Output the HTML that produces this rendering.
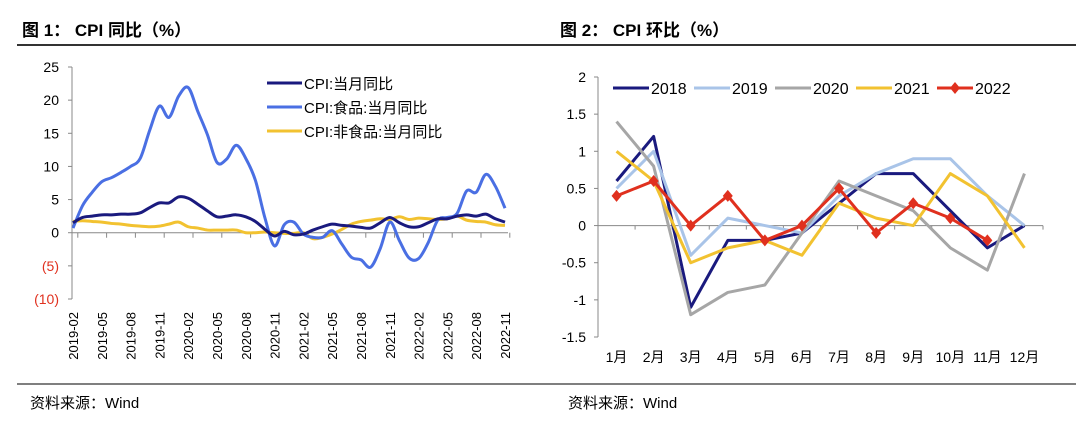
<!DOCTYPE html>
<html><head><meta charset="utf-8"><style>
body{margin:0;width:1080px;height:417px;background:#fff;overflow:hidden;font-family:"Liberation Sans","Noto Sans CJK SC",sans-serif}
svg text{font-family:"Liberation Sans","Noto Sans CJK SC",sans-serif}
</style></head><body>
<svg id="s" width="1080" height="417">
<text x="22" y="36" font-size="17" font-weight="bold">图 1：  CPI 同比（%）</text>
<text x="560" y="36" font-size="17" font-weight="bold">图 2：  CPI 环比（%）</text>
<line x1="17" y1="45" x2="1076" y2="45" stroke="#333" stroke-width="2"/>
<line x1="17" y1="384" x2="1076" y2="384" stroke="#333" stroke-width="1.2"/>
<text x="30" y="408" font-size="15">资料来源：Wind</text>
<text x="568" y="408" font-size="15">资料来源：Wind</text>
<g id="c1"></g><g id="c2"></g>
</svg>
<script>
const NS="http://www.w3.org/2000/svg";
function mk(p,t,a){const e=document.createElementNS(NS,t);for(const k in a)e.setAttribute(k,a[k]);p.appendChild(e);return e;}
// ---- Chart 1 data ----
const c1Ticks=[25,20,15,10,5,0,-5,-10];
const c1TickLabels=["25","20","15","10","5","0","(5)","(10)"];
const c1XLabels=["2019-02","2019-05","2019-08","2019-11","2020-02","2020-05","2020-08","2020-11","2021-02","2021-05","2021-08","2021-11","2022-02","2022-05","2022-08","2022-11"];
const cpiYoY=[1.5,2.3,2.5,2.7,2.7,2.8,2.8,3.0,3.8,4.5,4.5,5.4,5.2,4.3,3.3,2.4,2.5,2.7,2.4,1.7,0.5,-0.5,0.2,-0.3,-0.2,0.4,0.9,1.3,1.1,1.0,0.8,0.7,1.5,2.3,1.5,0.9,0.9,1.5,2.1,2.1,2.5,2.7,2.5,2.8,2.1,1.6];
const foodYoY=[0.7,4.1,6.1,7.7,8.3,9.1,10.0,11.2,15.5,19.1,17.4,20.6,21.9,18.3,14.8,10.6,11.1,13.2,11.2,7.9,2.2,-2.0,1.2,1.6,-0.2,-0.7,-0.7,0.3,-1.7,-3.7,-4.1,-5.2,-2.4,1.6,-1.2,-3.8,-3.9,-1.5,1.9,2.3,2.9,6.3,6.1,8.8,7.0,3.7];
const nonFoodYoY=[1.7,1.8,1.7,1.6,1.4,1.3,1.1,1.0,0.9,1.0,1.3,1.6,0.9,0.7,0.4,0.4,0.4,0.4,0.0,0.0,0.1,0.0,-0.1,-0.1,0.0,-0.9,-0.7,-0.2,0.5,1.3,1.7,1.9,2.1,2.0,2.4,2.0,2.2,2.1,2.0,2.1,2.5,1.9,1.7,1.6,1.2,1.1];
const c1Names=["CPI:当月同比","CPI:食品:当月同比","CPI:非食品:当月同比"];
// ---- Chart 2 data ----
const c2Ticks=[2,1.5,1,0.5,0,-0.5,-1,-1.5];
const c2Months=["1月","2月","3月","4月","5月","6月","7月","8月","9月","10月","11月","12月"];
const y2018=[0.6,1.2,-1.1,-0.2,-0.2,-0.1,0.3,0.7,0.7,0.2,-0.3,0];
const y2019=[0.5,1.0,-0.4,0.1,0,-0.1,0.4,0.7,0.9,0.9,0.4,0];
const y2020=[1.4,0.8,-1.2,-0.9,-0.8,-0.1,0.6,0.4,0.2,-0.3,-0.6,0.7];
const y2021=[1.0,0.6,-0.5,-0.3,-0.2,-0.4,0.3,0.1,0,0.7,0.4,-0.3];
const y2022=[0.4,0.6,0,0.4,-0.2,0,0.5,-0.1,0.3,0.1,-0.2];
const c2Names=["2018","2019","2020","2021","2022"];

function smooth(pts){let d='M'+pts[0][0]+','+pts[0][1];
 for(let i=0;i<pts.length-1;i++){const p0=pts[Math.max(i-1,0)],p1=pts[i],p2=pts[i+1],p3=pts[Math.min(i+2,pts.length-1)];
  const c1x=p1[0]+(p2[0]-p0[0])/6,c1y=p1[1]+(p2[1]-p0[1])/6,c2x=p2[0]-(p3[0]-p1[0])/6,c2y=p2[1]-(p3[1]-p1[1])/6;
  d+=` C${c1x},${c1y} ${c2x},${c2y} ${p2[0]},${p2[1]}`;}
 return d;}

// ---- Chart 1 draw ----
(function(){
const g=document.getElementById('c1');
const x0=73,x1=505,yTop=67,yBot=299,vMax=25,vMin=-10;
const y=v=>yTop+(vMax-v)/(vMax-vMin)*(yBot-yTop);
const n=cpiYoY.length;const x=i=>x0+i*(x1-x0)/(n-1);
let e=mk(g,'line',{x1:72,y1:yTop,x2:72,y2:yBot,stroke:'#888'});

e=mk(g,'line',{x1:72,y1:y(0),x2:508,y2:y(0),stroke:'#888'});

c1Ticks.forEach((v,i)=>{mk(g,'line',{x1:68,y1:y(v),x2:72,y2:y(v),stroke:'#888'});
 const t=mk(g,'text',{x:59,y:y(v)+5,'font-size':14,'text-anchor':'end',fill:v<0?'#e0301e':'#000'});t.textContent=c1TickLabels[i];
 });
c1XLabels.forEach((l,k)=>{const xi=x(k*3);mk(g,'line',{x1:xi+4.8,y1:y(0),x2:xi+4.8,y2:y(0)+5,stroke:'#888'});
 const t=mk(g,'text',{x:0,y:0,'font-size':13,'text-anchor':'end',transform:`translate(${xi+5},312) rotate(-90)`});t.textContent=l;
 });
const cols=['#1a1a7e','#4a6fe3','#f2c230'];
[nonFoodYoY,foodYoY,cpiYoY].forEach((s,si)=>{const c=[cols[2],cols[1],cols[0]][si];
 const p=mk(g,'path',{d:smooth(s.map((v,i)=>[x(i),y(v)])),fill:'none',stroke:c,'stroke-width':3,'stroke-linejoin':'round'});
 });
c1Names.forEach((nm,i)=>{const ly=83+i*24;mk(g,'line',{x1:267,y1:ly,x2:302,y2:ly,stroke:cols[i],'stroke-width':3});
 const t=mk(g,'text',{x:304,y:ly+6,'font-size':15});t.textContent=nm;
 });
})();
// ---- Chart 2 draw ----
(function(){
const g=document.getElementById('c2');
const ax0=598,ax1=1043,yTop=77,yBot=337,vMax=2,vMin=-1.5;
const y=v=>yTop+(vMax-v)/(vMax-vMin)*(yBot-yTop);
const bw=(ax1-ax0)/12;const x=i=>ax0+bw*(i+0.5);
let e=mk(g,'line',{x1:ax0,y1:yTop,x2:ax0,y2:yBot,stroke:'#888'});

e=mk(g,'line',{x1:ax0,y1:y(0),x2:ax1,y2:y(0),stroke:'#888'});

c2Ticks.forEach(v=>{mk(g,'line',{x1:ax0-4,y1:y(v),x2:ax0,y2:y(v),stroke:'#888'});
 const t=mk(g,'text',{x:586,y:y(v)+5,'font-size':14,'text-anchor':'end'});t.textContent=String(v);
 });
c2Months.forEach((m,i)=>{mk(g,'line',{x1:ax0+bw*(i+1),y1:y(0),x2:ax0+bw*(i+1),y2:y(0)+4,stroke:'#888'});
 const t=mk(g,'text',{x:x(i),y:362,'font-size':14,'text-anchor':'middle'});t.textContent=m;
 });
const series=[y2018,y2019,y2020,y2021,y2022];const cols=['#1a1a7e','#a9c4e8','#a6a6a6','#f2c230','#e0301e'];
series.forEach((s,si)=>{const p=mk(g,'polyline',{points:s.map((v,i)=>x(i)+','+y(v)).join(' '),fill:'none',stroke:cols[si],'stroke-width':3,'stroke-linejoin':'round'});
 });
y2022.forEach((v,i)=>{const cx=x(i),cy=y(v);const d=mk(g,'polygon',{points:`${cx},${cy-6} ${cx+5},${cy} ${cx},${cy+6} ${cx-5},${cy}`,fill:cols[4]});
 });
const lx=[613,694,775,856,937];
c2Names.forEach((nm,i)=>{const ly=88;mk(g,'line',{x1:lx[i],y1:ly,x2:lx[i]+36,y2:ly,stroke:cols[i],'stroke-width':3});
 if(i==4)mk(g,'polygon',{points:`${lx[i]+18},${ly-6} ${lx[i]+23},${ly} ${lx[i]+18},${ly+6} ${lx[i]+13},${ly}`,fill:cols[4]});
 const t=mk(g,'text',{x:lx[i]+38,y:ly+6,'font-size':16});t.textContent=nm;
 });
})();
</script>
</body></html>
